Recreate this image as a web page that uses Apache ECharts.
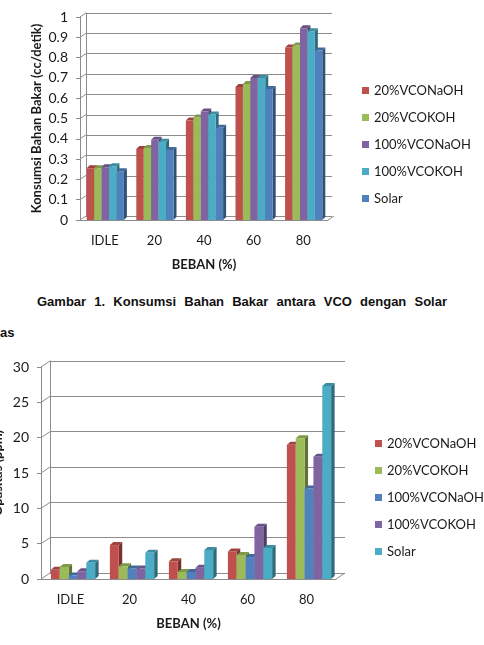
<!DOCTYPE html>
<html>
<head>
<meta charset="utf-8">
<script src="https://cdn.jsdelivr.net/npm/echarts@6/dist/echarts.min.js"></script>
<style>
  body { margin: 0; background: #fff; }
  #fuel { position: absolute; left: 0; top: 0; width: 484px; height: 280px; }
  #opacity { position: absolute; left: 0; top: 340px; width: 484px; height: 305px; }
  .cap { position: absolute; font-family: "Liberation Sans", Arial, sans-serif; font-weight: bold; font-size: 13px; color: #111; }
</style>
</head>
<body>
<div id="fuel"></div>
<div class="cap" style="left:37px;top:294px;width:410px;text-align:justify;text-align-last:justify;">Gambar 1. Konsumsi Bahan Bakar antara VCO dengan Solar</div>
<div class="cap" style="left:0;top:325px;">as</div>
<div id="opacity"></div>
<script>
// categories (beban %)
const categories = ['IDLE', '20', '40', '60', '80'];

// chart 1: konsumsi bahan bakar (cc/detik)
const fuelNames = ['20%VCONaOH', '20%VCOKOH', '100%VCONaOH', '100%VCOKOH', 'Solar'];
const fuel20NaOH = [0.255, 0.35, 0.49, 0.655, 0.85];
const fuel20KOH = [0.255, 0.355, 0.505, 0.67, 0.86];
const fuel100NaOH = [0.26, 0.395, 0.535, 0.70, 0.945];
const fuel100KOH = [0.265, 0.385, 0.52, 0.70, 0.93];
const fuelSolar = [0.24, 0.345, 0.455, 0.645, 0.835];
const fuelTicks = [0, 0.1, 0.2, 0.3, 0.4, 0.5, 0.6, 0.7, 0.8, 0.9, 1];

// chart 2: opasitas (ppm)
const opacityNames = ['20%VCONaOH', '20%VCOKOH', '100%VCONaOH', '100%VCOKOH', 'Solar'];
const opacity20NaOH = [1.3, 4.8, 2.5, 3.9, 19.0];
const opacity20KOH = [1.7, 1.8, 1.0, 3.4, 19.9];
const opacity100NaOH = [0.5, 1.5, 1.0, 3.1, 12.8];
const opacity100KOH = [1.1, 1.5, 1.6, 7.4, 17.3];
const opacitySolar = [2.3, 3.7, 4.1, 4.4, 27.3];
const opacityTicks = [0, 5, 10, 15, 20, 25, 30];

const RED = '#C0504D', GREEN = '#9BBB59', PURPLE = '#8064A2', CYAN = '#4BACC6', BLUE = '#4F81BD';
const LINE = '#8c8c8c';
const FONT = 'Lato';

function shade(hex, k) {
  const n = parseInt(hex.slice(1), 16);
  const r = Math.round(((n >> 16) & 255) * k), g = Math.round(((n >> 8) & 255) * k), b = Math.round((n & 255) * k);
  return 'rgb(' + r + ',' + g + ',' + b + ')';
}

// 3d-ish column: front face + top + right side
function barRenderer(idx, count, bx, by, shift, color) {
  const topCol = shade(color, 0.82), sideCol = shade(color, 0.62);
  return function (params, api) {
    const j = api.value(0), v = api.value(1);
    const pTop = api.coord([j, v]);
    const pBase = api.coord([j, 0]);
    const catW = api.size([1, 0])[0];
    const w = catW * 0.15;
    const x0 = pTop[0] - w * count / 2 + idx * w + shift;
    const x1 = x0 + w;
    const yt = pTop[1], yb = pBase[1];
    return {
      type: 'group',
      children: [
        { type: 'polygon', shape: { points: [[x1, yt], [x1 + bx, yt - by], [x1 + bx, yb - by], [x1, yb]] }, style: { fill: sideCol } },
        { type: 'polygon', shape: { points: [[x0, yt], [x0 + bx, yt - by], [x1 + bx, yt - by], [x1, yt]] }, style: { fill: topCol } },
        { type: 'rect', shape: { x: x0, y: yt, width: w, height: yb - yt }, style: { fill: color } }
      ]
    };
  };
}

// slanted lines joining the front axis to the back wall, and the floor corner
function wallRenderer(dx, dy, nCat) {
  return function (params, api) {
    const v = api.value(1);
    const p = api.coord([0, v]);
    const catW = api.size([1, 0])[0];
    const left = p[0] - catW / 2;
    const kids = [{ type: 'line', shape: { x1: left, y1: p[1], x2: left + dx, y2: p[1] - dy }, style: { stroke: LINE, lineWidth: 1 } }];
    if (v === 0) {
      const right = left + catW * nCat;
      kids.push({ type: 'line', shape: { x1: right, y1: p[1], x2: right + dx, y2: p[1] - dy }, style: { stroke: LINE, lineWidth: 1 } });
    }
    return { type: 'group', children: kids };
  };
}

function buildOption(c) {
  const series = [{
    type: 'custom', xAxisIndex: 0, yAxisIndex: 0, silent: true, z: 1,
    renderItem: wallRenderer(c.dx, c.dy, categories.length),
    data: c.ticks.map(t => [0, t])
  }];
  c.series.forEach((s, i) => {
    series.push({
      name: s.name, type: 'custom', xAxisIndex: 0, yAxisIndex: 0, z: 3,
      itemStyle: { color: s.color },
      renderItem: barRenderer(i, c.series.length, c.bx, c.by, c.shift, s.color),
      data: s.values.map((v, j) => [j, v])
    });
  });
  return {
    animation: false,
    legend: {
      orient: 'vertical', left: c.legendLeft, top: c.legendTop, padding: 0,
      itemWidth: 7, itemHeight: 7, itemGap: 14, icon: 'rect',
      textStyle: { fontFamily: FONT, fontSize: 13, color: '#1a1a1a' },
      data: c.series.map(s => s.name)
    },
    grid: [
      { left: c.front.left, right: c.front.right, top: c.front.top, bottom: c.front.bottom, outerBoundsMode: 'none' },
      { left: c.back.left, right: c.back.right, top: c.back.top, bottom: c.back.bottom, outerBoundsMode: 'none' }
    ],
    xAxis: [
      {
        type: 'category', gridIndex: 0, data: categories,
        axisLine: { lineStyle: { color: LINE } }, axisTick: { show: false },
        axisLabel: { margin: 14, fontFamily: FONT, fontSize: 13, color: '#1a1a1a' },
        name: 'BEBAN (%)', nameLocation: 'middle', nameGap: 38, nameMoveOverlap: false,
        nameTextStyle: { fontFamily: FONT, fontSize: 13, fontWeight: 'bold', color: '#1a1a1a' }
      },
      { type: 'category', gridIndex: 1, data: categories, show: false }
    ],
    yAxis: [
      {
        type: 'value', gridIndex: 0, min: 0, max: c.max, interval: c.interval,
        axisLine: { show: true, lineStyle: { color: LINE } },
        axisTick: { show: true, length: 4, lineStyle: { color: LINE } },
        splitLine: { show: false },
        axisLabel: { margin: 12, fontFamily: FONT, fontSize: 14, color: '#1a1a1a' },
        name: c.yName, nameLocation: 'middle', nameGap: c.nameGap, nameMoveOverlap: false,
        nameTextStyle: { fontFamily: FONT, fontSize: 13, fontWeight: 'bold', color: '#1a1a1a' }
      },
      {
        type: 'value', gridIndex: 1, min: 0, max: c.max, interval: c.interval,
        axisLine: { show: true, lineStyle: { color: LINE } },
        axisTick: { show: false }, axisLabel: { show: false },
        splitLine: { show: true, lineStyle: { color: LINE, width: 1 } }
      }
    ],
    series: series
  };
}

const fuelChart = echarts.init(document.getElementById('fuel'));
fuelChart.setOption(buildOption({
  front: { left: 80, right: 156, top: 17, bottom: 60 },
  back: { left: 86, right: 152, top: 13, bottom: 63.5 },
  dx: 6, dy: 4, bx: 3, by: 3, shift: 0.5,
  max: 1, interval: 0.1, ticks: fuelTicks,
  yName: 'Konsumsi Bahan Bakar (cc/detik)', nameGap: 37,
  legendLeft: 362, legendTop: 84,
  series: [
    { name: fuelNames[0], values: fuel20NaOH, color: RED },
    { name: fuelNames[1], values: fuel20KOH, color: GREEN },
    { name: fuelNames[2], values: fuel100NaOH, color: PURPLE },
    { name: fuelNames[3], values: fuel100KOH, color: CYAN },
    { name: fuelNames[4], values: fuelSolar, color: BLUE }
  ]
}));

const opacityChart = echarts.init(document.getElementById('opacity'));
opacityChart.setOption(buildOption({
  front: { left: 41, right: 148, top: 27, bottom: 66 },
  back: { left: 50, right: 139, top: 21, bottom: 72 },
  dx: 9, dy: 6, bx: 3.5, by: 3, shift: 2.5,
  max: 30, interval: 5, ticks: opacityTicks,
  yName: 'Opasitas (ppm)', nameGap: 37,
  legendLeft: 375, legendTop: 97,
  series: [
    { name: opacityNames[0], values: opacity20NaOH, color: RED },
    { name: opacityNames[1], values: opacity20KOH, color: GREEN },
    { name: opacityNames[2], values: opacity100NaOH, color: BLUE },
    { name: opacityNames[3], values: opacity100KOH, color: PURPLE },
    { name: opacityNames[4], values: opacitySolar, color: CYAN }
  ]
}));
</script>
</body>
</html>
